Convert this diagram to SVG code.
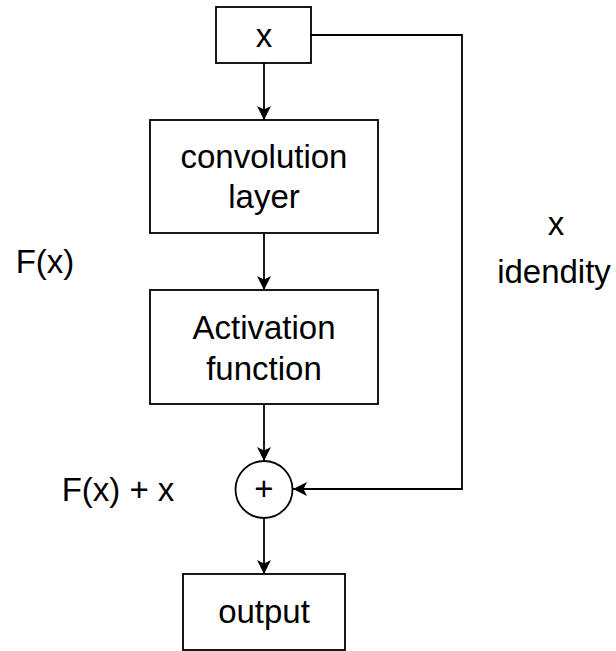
<svg xmlns="http://www.w3.org/2000/svg" width="616" height="651" viewBox="0 0 616 651">
<style>
.box{fill:#fff;stroke:#000;stroke-width:1.8}
.t{font-family:"Liberation Sans",Arial,sans-serif;font-size:33px;fill:#000;text-anchor:middle}
.c{fill:none;stroke:#000;stroke-width:1.8}
</style>
<defs>
<marker id="ah" markerUnits="userSpaceOnUse" markerWidth="18" markerHeight="18" refX="15" refY="9" orient="auto">
<path d="M1,2 L15,9 L1,16 L4.5,9 z" fill="#000"/>
</marker>
</defs>
<rect width="616" height="651" fill="#fff"/>
<g id="connectors">
<path class="c" d="M264,63 V120" marker-end="url(#ah)"/>
<path class="c" d="M264,233 V290" marker-end="url(#ah)"/>
<path class="c" d="M264,404 V461" marker-end="url(#ah)"/>
<path class="c" d="M264,518 V574" marker-end="url(#ah)"/>
<path class="c" d="M311,35 H462 V489 H293" marker-end="url(#ah)"/>
</g>
<g id="node-x">
<rect class="box" x="216" y="7" width="95" height="56"/>
<text class="t" x="264" y="47">x</text>
</g>
<g id="node-conv">
<rect class="box" x="150" y="120" width="228" height="113"/>
<text class="t" x="264" y="168">convolution</text>
<text class="t" x="264" y="208">layer</text>
</g>
<g id="node-act">
<rect class="box" x="150" y="290" width="228" height="114"/>
<text class="t" x="264" y="339">Activation</text>
<text class="t" x="264" y="380">function</text>
</g>
<g id="node-sum">
<circle class="box" cx="264" cy="489.5" r="28.5"/>
<text class="t" x="264" y="500">+</text>
</g>
<g id="node-output">
<rect class="box" x="183" y="574" width="162" height="76"/>
<text class="t" x="264" y="623">output</text>
</g>
<g id="labels">
<text class="t" x="45" y="273">F(x)</text>
<text class="t" x="118" y="501">F(x) + x</text>
<text class="t" x="556" y="235">x</text>
<text class="t" x="554" y="283">idendity</text>
</g>
</svg>
